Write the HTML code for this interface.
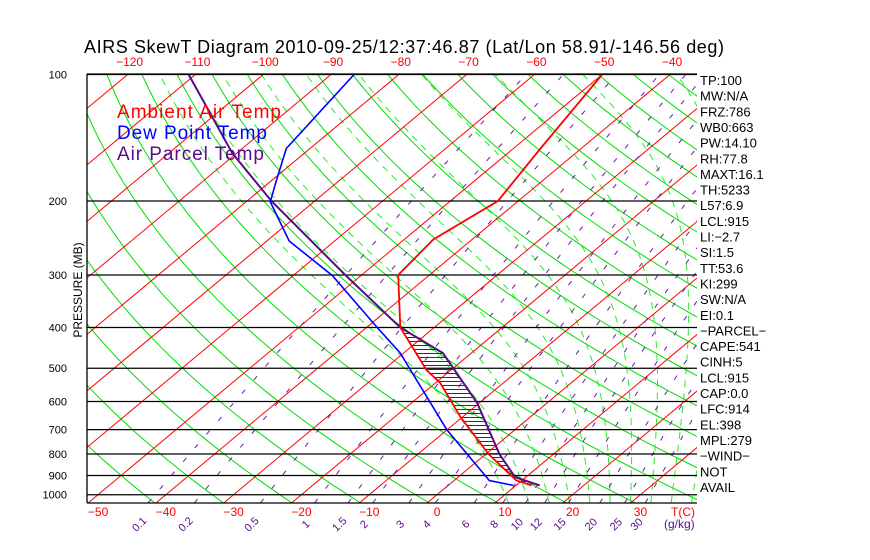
<!DOCTYPE html>
<html><head><meta charset="utf-8">
<style>
html,body{margin:0;padding:0;background:#fff;}
svg{display:block;font-family:"Liberation Sans",sans-serif;}
</style></head>
<body>
<svg id="chart" width="870" height="560" viewBox="0 0 870 560" xmlns="http://www.w3.org/2000/svg">
<defs><clipPath id="plotclip"><rect x="87" y="74" width="610" height="429"/></clipPath></defs>
<rect x="0" y="0" width="870" height="560" fill="#fff"/>
<text x="84" y="53" font-size="18" fill="#000" textLength="640" lengthAdjust="spacing">AIRS SkewT Diagram 2010-09-25/12:37:46.87 (Lat/Lon 58.91/-146.56 deg)</text>
<g id="grid" clip-path="url(#plotclip)"></g>
<g id="profiles" clip-path="url(#plotclip)"></g>
<g id="axes"></g>
<text x="117" y="118" font-size="19" fill="#ff0000" textLength="164" lengthAdjust="spacing">Ambient Air Temp</text>
<text x="117" y="139" font-size="19" fill="#0000ff" textLength="150" lengthAdjust="spacing">Dew Point Temp</text>
<text x="117" y="160" font-size="19" fill="#5a0a8c" textLength="147" lengthAdjust="spacing">Air Parcel Temp</text>
<text transform="translate(82,290) rotate(-90)" text-anchor="middle" font-size="12" fill="#000">PRESSURE (MB)</text>
<g id="stats"></g>
</svg>
<script>
// ---- data ----
const ambP=[100,150,200,247,300,400,505,542,653,800,925,950];
const ambT=[-50,-46,-43,-45.7,-44.6,-35,-23.6,-19.3,-10.3,0.4,9.2,12.3];
const dewP=[100,150,178,201,249,301,400,460,701,925,950];
const dewT=[-86.6,-83.5,-79.4,-76.4,-66.7,-54.2,-38.4,-30.5,-10,5.2,9.6];
const parP=[100,154,200,247,300,400,460,605,800,908,950];
const parT=[-111,-90.6,-76.4,-63.9,-52.4,-35,-24.2,-10.3,2,8.4,13.5];
const pressureTicks=[100,200,300,400,500,600,700,800,900,1000];
const bottomTempTicks=[-50,-40,-30,-20,-10,0,10,20,30];
const topTempTicks=[-120,-110,-100,-90,-80,-70,-60,-50,-40];
const mixingRatios=[0.1,0.2,0.5,1,1.5,2,3,4,6,8,10,12,15,20,25,30];
const statLabels=["TP:100","MW:N/A","FRZ:786","WB0:663","PW:14.10","RH:77.8","MAXT:16.1","TH:5233","L57:6.9","LCL:915","LI:\u22122.7","SI:1.5","TT:53.6","KI:299","SW:N/A","EI:0.1","\u2212PARCEL\u2212","CAPE:541","CINH:5","LCL:915","CAP:0.0","LFC:914","EL:398","MPL:279","\u2212WIND\u2212","NOT","AVAIL"];

// ---- axes functions ----
const PB=1046, YB=503, YT=74, XL=87, XR=697;
function yP(p){return 201+182.5*Math.log(p/200);}
function xT(T,p){return 427+6.78*T+1.2*(YB-yP(p));}
const NS="http://www.w3.org/2000/svg";
function mk(tag,attrs,parent){const e=document.createElementNS(NS,tag);for(const k in attrs)e.setAttribute(k,attrs[k]);parent.appendChild(e);return e;}
const grid=document.getElementById('grid'),prof=document.getElementById('profiles'),axes=document.getElementById('axes'),stats=document.getElementById('stats');
function pathFrom(ps,ts){let d='';for(let i=0;i<ps.length;i++){d+=(i?'L':'M')+xT(ts[i],ps[i]).toFixed(1)+','+yP(ps[i]).toFixed(1);}return d;}
function pList(){const a=[];for(let p=PB;p>=95;p*=0.97)a.push(p);a.push(95);return a;}
const PL=pList();

for(let th=180;th<=520;th+=10){
  const ts=PL.map(p=>th*Math.pow(p/1000,0.286)-273.15);
  const el=mk('path',{d:pathFrom(PL,ts),stroke:'#00dd00','stroke-width':1,fill:'none'},grid);
  
  
}
function es(T){return 6.112*Math.exp(17.67*T/(T+243.5));}
for(let t0=12;t0<=42;t0+=3){
  const ps=[],ts=[];let T=t0+273.15;let p=PB;
  while(p>=95){ps.push(p);ts.push(T-273.15);
    const dp=-2;const Tc=T-273.15;const rs=0.622*es(Tc)/(p-es(Tc));
    const dTdp=(1/p)*(287*T+2.5e6*rs)/(1004+2.5e6*2.5e6*rs*0.622/(287*T*T));
    T+=dTdp*dp;p+=dp;}
  const el=mk('path',{d:pathFrom(ps,ts),stroke:'#22ee22','stroke-width':1,fill:'none','stroke-dasharray':'7,6'},grid);
  
  
}
for(let T=-200;T<=60;T+=10){
  const el=mk('line',{x1:xT(T,PB),y1:YB,x2:xT(T,95),y2:yP(95),stroke:'#ff0000','stroke-width':1},grid);
  
  
}
function tdFromW(w,p){const e=w*p/(622+w);const l=Math.log(e/6.112);return 243.5*l/(17.67-l);}
mixingRatios.forEach(w=>{
  const ps=[PB,700,400,200,100];const ts=ps.map(p=>tdFromW(w,p));
  const el=mk('path',{d:pathFrom(ps,ts),stroke:'#6a1aa8','stroke-width':1,fill:'none','stroke-dasharray':'5,13'},grid);
  
  
});
pressureTicks.forEach(p=>{
  const el=mk('line',{x1:XL,y1:yP(p),x2:XR,y2:yP(p),stroke:'#000','stroke-width':1.3},grid);
  
  
});

function xAtY(ps,ts,y){for(let i=0;i<ps.length-1;i++){const y1=yP(ps[i]),y2=yP(ps[i+1]);if(y>=y1&&y<=y2){const f=(y-y1)/(y2-y1);return xT(ts[i],ps[i])+f*(xT(ts[i+1],ps[i+1])-xT(ts[i],ps[i]));}}return null;}
for(let y=yP(400)+2;y<yP(950);y+=4){
  const xa=xAtY(ambP,ambT,y),xp=xAtY(parP,parT,y);
  if(xa!==null&&xp!==null&&xp>xa+1){
    const el=mk('line',{x1:xa,y1:y,x2:xp,y2:y,stroke:'#5a0a8c','stroke-width':1},prof);
    
    
  }
}
let el;
el=mk('path',{d:pathFrom(parP,parT),stroke:'#5a0a8c','stroke-width':2,fill:'none'},prof);


el=mk('path',{d:pathFrom(dewP,dewT),stroke:'#0000ff','stroke-width':1.6,fill:'none'},prof);


el=mk('path',{d:pathFrom(ambP,ambT),stroke:'#ff0000','stroke-width':1.8,fill:'none'},prof);



el=mk('line',{x1:XL,y1:YT,x2:XR,y2:YT,stroke:'#000','stroke-width':1.3},axes);


el=mk('line',{x1:XL,y1:YT,x2:XL,y2:YB,stroke:'#000','stroke-width':1.3},axes);


el=mk('line',{x1:XL,y1:YB,x2:XR,y2:YB,stroke:'#000','stroke-width':1.3},axes);



pressureTicks.forEach(p=>{
  const t=mk('text',{x:67,y:yP(p)+4,'text-anchor':'end','font-size':11,fill:'#000'},axes);
  t.textContent=p;
  
  
});
bottomTempTicks.forEach(T=>{
  const t=mk('text',{x:xT(T,PB)+10,y:516,'text-anchor':'middle','font-size':12,fill:'#ff0000'},axes);
  t.textContent=(T<0?'\u2212'+(-T):T);
  
  
});
el=mk('text',{x:683,y:516,'text-anchor':'middle','font-size':12,fill:'#ff0000'},axes);
el.textContent='T(C)';


topTempTicks.forEach(T=>{
  const t=mk('text',{x:xT(T,100)+2,y:66,'text-anchor':'middle','font-size':12,fill:'#ff0000'},axes);
  t.textContent='\u2212'+(-T);
  
  
});
mixingRatios.forEach(w=>{
  const x=xT(tdFromW(w,PB),PB)-9;
  const t=mk('text',{x:x,y:528,'text-anchor':'middle','font-size':11,fill:'#5a0a8c',transform:'rotate(-45 '+x+' 524)'},axes);
  t.textContent=w;
  
  
});
el=mk('text',{x:664,y:528,'font-size':12,fill:'#5a0a8c'},axes);
el.textContent='(g/kg)';


statLabels.forEach((s,i)=>{
  const t=mk('text',{x:700,y:85+i*15.65,'font-size':13,fill:'#000'},stats);
  t.textContent=s;
  
  
});
</script>
</body></html>
